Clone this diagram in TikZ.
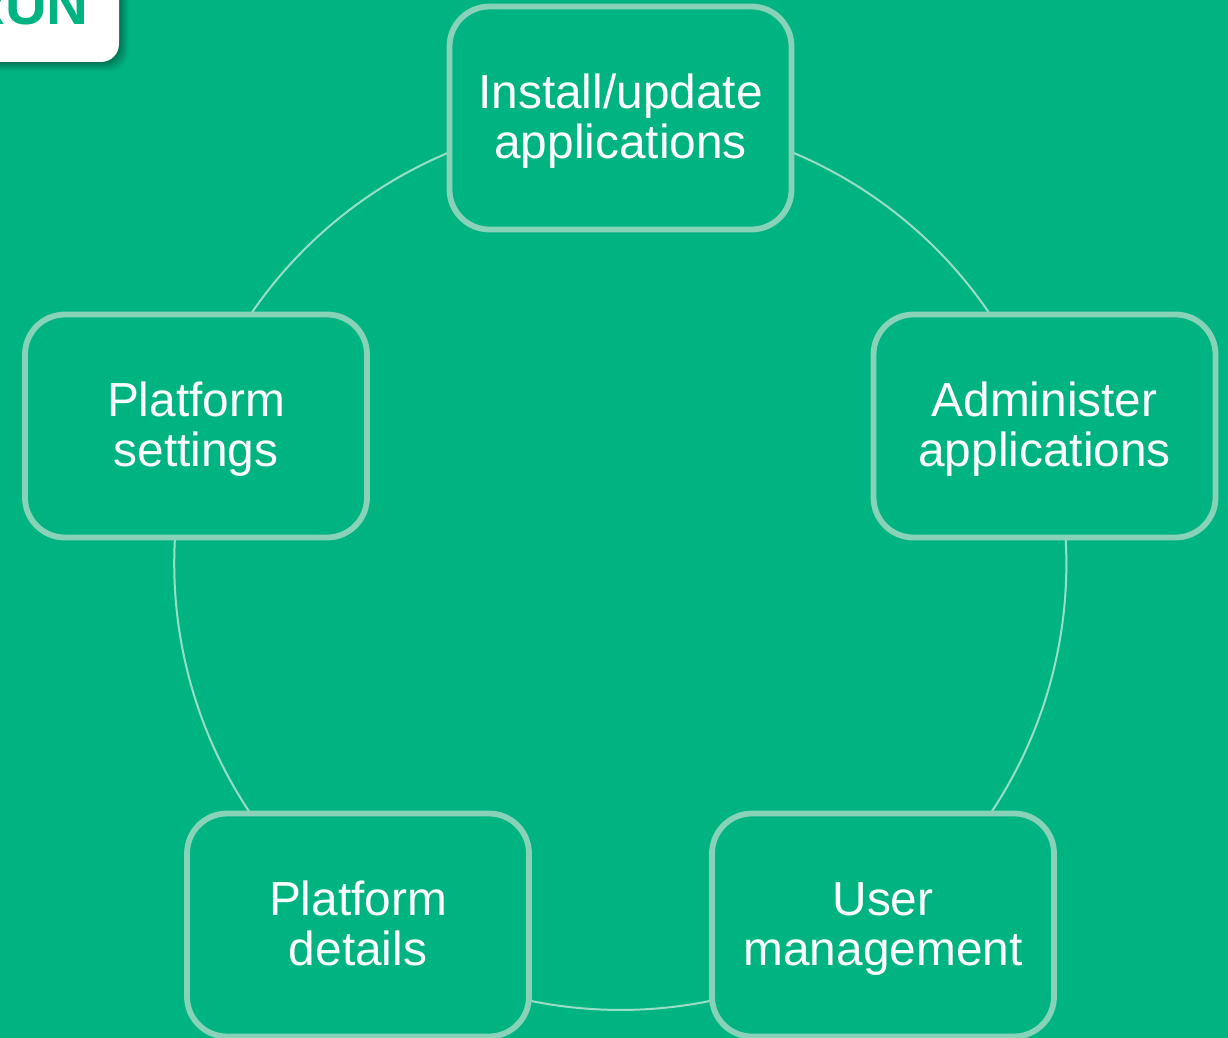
\documentclass[tikz,border=0pt]{standalone}
\usepackage{fontspec}
\setmainfont{Liberation Sans}
\usetikzlibrary{backgrounds}
\definecolor{bggreen}{HTML}{00B482}
\definecolor{edgegreen}{HTML}{88D2B9}
\definecolor{linegreen}{HTML}{9ADDC6}
\definecolor{shadowgreen}{HTML}{004A34}
\newcommand{\firststrut}{\rule{0pt}{44pt}}
\newcommand{\laststrut}{\rule[-14pt]{0pt}{14pt}}
\tikzset{
  x=1pt,y=-1pt,
  stepbox/.style={draw=edgegreen,line width=5.8pt,rounded corners=40pt,fill=bggreen,
    minimum width=342pt,minimum height=223pt,inner sep=0pt,align=center,text=white,
    font=\fontsize{47.8pt}{50pt}\selectfont},
  ringline/.style={draw=linegreen,line width=2pt,looseness=.941},
  logotext/.style={text=bggreen,font=\fontsize{58pt}{58pt}\selectfont\bfseries,inner sep=0pt,anchor=base east}
}
\begin{document}
\begin{tikzpicture}
\useasboundingbox (0,0) rectangle (1228,1038);
\clip (0,0) rectangle (1228,1038);
% boxes
\node[stepbox] (install) at (620.5,118) {\firststrut Install/update\\applications\laststrut};
\node[stepbox] (admin) at (1044.5,426) {\firststrut Administer\\applications\laststrut};
\node[stepbox] (user) at (883,925) {\firststrut User\\management\laststrut};
\node[stepbox] (details) at (358,925) {\firststrut Platform\\details\laststrut};
\node[stepbox] (settings) at (196,426) {\firststrut Platform\\settings\laststrut};
% logo tab with soft shadow
\foreach \d/\o in {10/.05,8.5/.07,7/.09,5.5/.11,4/.13,2.5/.16,1/.2}{
  \fill[shadowgreen,opacity=\o,rounded corners=20pt] (-60,-60) rectangle ({119+\d},{62+\d});
}
\fill[white,rounded corners=18pt] (-60,-60) rectangle (119,62);
\node[logotext] (logo) at (89,25) {RUN};
% background and ring
\begin{pgfonlayer}{background}
\fill[bggreen] (0,0) rectangle (1228,1038);
\draw[ringline] (install.center) to[out=0,in=108] (admin.center);
\draw[ringline] (admin.center) to[out=-72,in=36] (user.center);
\draw[ringline] (user.center) to[out=-144,in=-36] (details.center);
\draw[ringline] (details.center) to[out=144,in=-108] (settings.center);
\draw[ringline] (settings.center) to[out=72,in=180] (install.center);
\end{pgfonlayer}
\end{tikzpicture}
\end{document}
